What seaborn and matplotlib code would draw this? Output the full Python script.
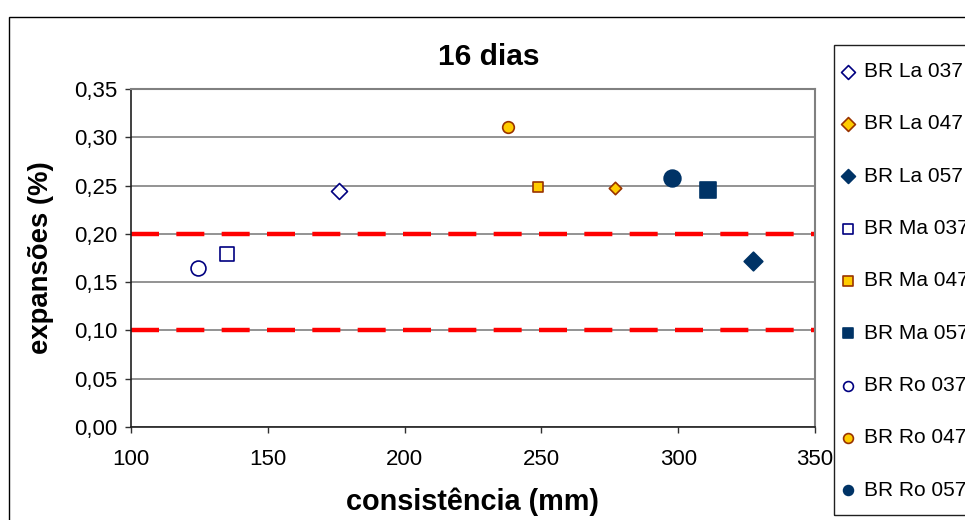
import matplotlib
matplotlib.use("Agg")
import matplotlib.pyplot as plt
import seaborn as sns
from matplotlib.patches import Rectangle
from matplotlib.ticker import FuncFormatter, MultipleLocator

# data
series = ['BR La 037', 'BR La 047', 'BR La 057',
          'BR Ma 037', 'BR Ma 047', 'BR Ma 057',
          'BR Ro 037', 'BR Ro 047', 'BR Ro 057']
consistencia = [176.1, 276.9, 327.2, 135.0, 248.9, 311.0, 124.5, 237.9, 297.8]
expansoes = [0.244, 0.248, 0.172, 0.179, 0.249, 0.245, 0.165, 0.311, 0.258]
limites = [0.10, 0.20]

style = {
    'BR La 037': dict(marker='D', s=66, fc='white', ec='#000080'),
    'BR La 047': dict(marker='D', s=40, fc='#FFCC00', ec='#993300'),
    'BR La 057': dict(marker='D', s=90, fc='#003366', ec='#003366'),
    'BR Ma 037': dict(marker='s', s=100, fc='white', ec='#000080'),
    'BR Ma 047': dict(marker='s', s=62, fc='#FFCC00', ec='#993300'),
    'BR Ma 057': dict(marker='s', s=132, fc='#003366', ec='#003366'),
    'BR Ro 037': dict(marker='o', s=115, fc='white', ec='#000080'),
    'BR Ro 047': dict(marker='o', s=70, fc='#FFCC00', ec='#993300'),
    'BR Ro 057': dict(marker='o', s=145, fc='#003366', ec='#003366'),
}

sns.set_style('white')
plt.rcParams['font.family'] = ['Liberation Sans', 'DejaVu Sans']
plt.rcParams['text.color'] = 'black'
plt.rcParams['axes.labelcolor'] = 'black'
plt.rcParams['xtick.color'] = 'black'
plt.rcParams['ytick.color'] = 'black'

fig = plt.figure(figsize=(9.65, 5.2), dpi=100)
ax = fig.add_axes([131 / 965, 1 - 427 / 520, 684 / 965, 338 / 520])

ax.grid(axis='y', color='#808080', lw=1.2, zorder=0)
ax.grid(axis='x', visible=False)
for lim in limites:
    ax.axhline(lim, color='red', lw=3.2, dashes=(6.3, 3.9), zorder=2)

for name, x, y in zip(series, consistencia, expansoes):
    st = style[name]
    sns.scatterplot(x=[x], y=[y], ax=ax, marker=st['marker'], s=st['s'],
                    color=st['fc'], edgecolor=st['ec'], linewidth=1.2,
                    label=name, zorder=3)

ax.set_xlim(100, 350)
ax.set_ylim(0, 0.35)
ax.xaxis.set_major_locator(MultipleLocator(50))
ax.yaxis.set_major_locator(MultipleLocator(0.05))
ax.yaxis.set_major_formatter(FuncFormatter(lambda v, p: f'{v:.2f}'.replace('.', ',')))
ax.tick_params(axis='both', labelsize=16, direction='out', length=4.5,
               width=1, color='#303030', labelcolor='black', left=True, bottom=True)
ax.tick_params(axis='y', pad=5)
ax.tick_params(axis='x', pad=11)

for side in ['left', 'bottom']:
    ax.spines[side].set_color('#202020')
    ax.spines[side].set_linewidth(1.2)
for side in ['top', 'right']:
    ax.spines[side].set_color('#808080')
    ax.spines[side].set_linewidth(1.5)

ax.set_xlabel('consistência (mm)', fontsize=20.8, fontweight='bold', va='center')
ax.set_ylabel('expansões (%)', fontsize=19.8, fontweight='bold', va='center')
ax.xaxis.set_label_coords(0.5, (427 - 502) / 338)
ax.yaxis.set_label_coords((41 - 131) / 684, 0.5)

fig.text(489 / 965, 1 - 57 / 520, '16 dias', fontsize=21.5, fontweight='bold',
         ha='center', va='center')

leg = ax.legend(loc='upper left', bbox_to_anchor=(842 / 965, 1 - 62 / 520),
                bbox_transform=fig.transFigure, frameon=False, fontsize=15,
                borderpad=0, borderaxespad=0, handlelength=0.6,
                handletextpad=0.45, labelspacing=1.6)
for h in leg.legend_handles:
    h.set_sizes([50])

# legend box and outer chart border
fig.patches.append(Rectangle((834 / 965, 1 - 515 / 520), 0.5, 470 / 520,
                             transform=fig.transFigure, fill=False,
                             ec='#202020', lw=1))
fig.patches.append(Rectangle((9 / 965, -0.1), 2, 1 - 17 / 520 + 0.1,
                             transform=fig.transFigure, fill=False,
                             ec='black', lw=1))

fig.savefig('out.png', dpi=100)
